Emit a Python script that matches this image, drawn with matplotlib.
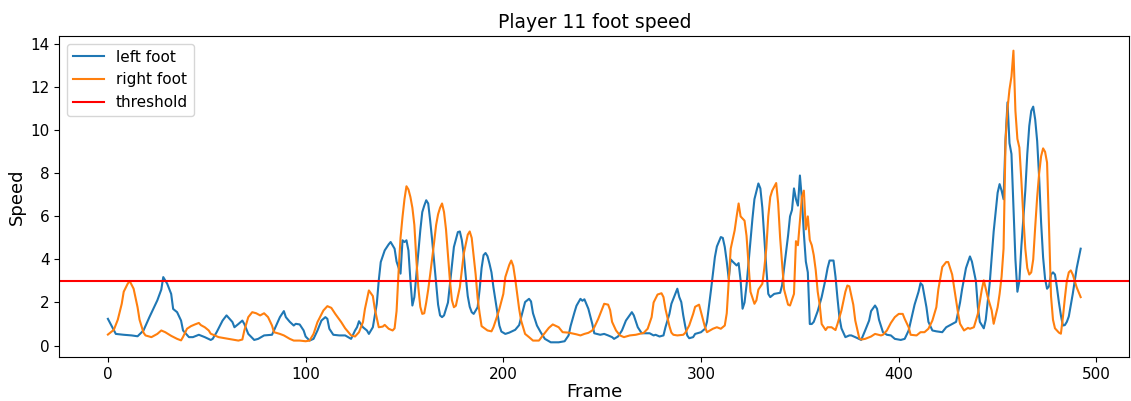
import matplotlib
matplotlib.use("Agg")
import matplotlib.pyplot as plt

# left foot: frame, speed
left_frame = [0, 4, 8, 12, 15, 18, 21, 25, 27, 28, 30, 32, 33, 35, 37, 38, 41, 43, 46, 49,
              52, 53, 55, 58, 60, 63, 64, 66, 68, 69, 71, 74, 76, 79, 83, 84, 87, 89, 90, 92,
              94, 95, 97, 99, 100, 102, 104, 106, 108, 110, 111, 112, 114, 117, 120, 123, 125, 126, 127, 129,
              131, 132, 134, 136, 137, 138, 140, 142, 143, 145, 146, 148, 149, 150, 151, 152, 153, 154, 155, 156,
              158, 159, 160, 161, 162, 163, 164, 165, 166, 167, 168, 169, 170, 172, 173, 175, 177, 178, 179, 180,
              181, 182, 183, 184, 185, 187, 188, 189, 190, 191, 192, 193, 194, 195, 196, 197, 198, 199, 201, 203,
              206, 208, 209, 211, 213, 214, 215, 217, 219, 221, 224, 228, 231, 233, 234, 236, 237, 239, 240, 241,
              243, 245, 246, 249, 251, 253, 255, 256, 258, 260, 262, 265, 266, 268, 270, 274, 276, 277, 279, 281,
              282, 284, 285, 287, 288, 289, 290, 291, 292, 293, 294, 296, 297, 300, 302, 303, 305, 307, 308, 310,
              311, 312, 313, 314, 315, 316, 318, 319, 320, 321, 322, 323, 325, 326, 327, 329, 330, 331, 332, 333,
              334, 335, 337, 339, 340, 341, 342, 344, 345, 346, 347, 348, 349, 350, 351, 352, 353, 354, 355, 356,
              357, 359, 361, 363, 364, 365, 367, 368, 369, 370, 371, 373, 375, 376, 378, 380, 381, 383, 385, 386,
              388, 389, 390, 392, 394, 396, 398, 401, 403, 405, 406, 408, 410, 411, 412, 413, 414, 415, 417, 419,
              422, 424, 426, 427, 429, 431, 432, 434, 436, 437, 439, 440, 441, 443, 444, 446, 448, 450, 451, 452,
              453, 454, 455, 456, 457, 458, 459, 460, 461, 462, 464, 465, 466, 467, 468, 469, 470, 471, 472, 473,
              474, 475, 476, 477, 478, 479, 480, 481, 482, 483, 484, 485, 486, 488, 490, 492]
left_speed = [1.24, 0.54, 0.5, 0.47, 0.43, 0.7, 1.32, 2.1, 2.6, 3.18, 2.87, 2.4, 1.7, 1.55, 1.16, 0.7, 0.39, 0.39, 0.5, 0.39,
              0.26, 0.31, 0.62, 1.16, 1.4, 1.09, 0.85, 1.0, 1.16, 1.0, 0.54, 0.26, 0.31, 0.47, 0.5, 0.7, 1.32, 1.6, 1.32, 1.1,
              0.93, 1.01, 0.98, 0.7, 0.42, 0.23, 0.31, 0.7, 1.16, 1.32, 1.24, 0.78, 0.5, 0.47, 0.47, 0.31, 0.7, 0.85, 1.13, 0.85,
              0.7, 0.54, 0.85, 1.94, 3.03, 3.88, 4.42, 4.7, 4.81, 4.5, 3.9, 3.34, 4.89, 4.81, 4.89, 4.42, 3.03, 1.86, 2.25, 3.3,
              5.35, 6.2, 6.5, 6.75, 6.6, 5.8, 4.9, 3.9, 2.9, 1.9, 1.4, 1.32, 1.4, 2.0, 2.87, 4.58, 5.27, 5.3, 4.9, 4.2,
              3.2, 2.3, 1.8, 1.55, 1.47, 1.78, 2.6, 3.6, 4.2, 4.3, 4.15, 3.8, 3.4, 2.7, 2.1, 1.5, 0.93, 0.65, 0.54, 0.6,
              0.73, 0.95, 1.3, 2.02, 2.17, 2.05, 1.5, 0.93, 0.6, 0.31, 0.15, 0.15, 0.2, 0.47, 0.9, 1.55, 1.85, 2.17, 2.08, 2.15,
              1.71, 1.0, 0.57, 0.5, 0.54, 0.47, 0.39, 0.31, 0.42, 0.7, 1.16, 1.55, 1.4, 0.85, 0.57, 0.57, 0.47, 0.5, 0.42, 0.47,
              0.85, 1.47, 1.94, 2.4, 2.64, 2.25, 2.02, 1.4, 0.9, 0.47, 0.34, 0.39, 0.54, 0.62, 0.78, 1.1, 2.56, 4.11, 4.6, 5.04,
              5.0, 4.58, 3.9, 3.1, 4.0, 3.9, 3.72, 3.83, 3.03, 1.71, 2.0, 2.8, 4.89, 5.9, 6.8, 7.53, 7.3, 6.4, 5.0, 3.6,
              2.4, 2.25, 2.4, 2.43, 2.45, 2.8, 3.6, 5.1, 6.0, 6.3, 7.3, 6.8, 6.5, 7.9, 6.8, 5.2, 3.9, 3.4, 1.0, 1.0,
              1.1, 1.6, 2.25, 3.1, 3.6, 3.95, 3.95, 3.2, 2.2, 1.3, 0.8, 0.39, 0.47, 0.47, 0.39, 0.3, 0.26, 0.7, 1.16, 1.6,
              1.86, 1.71, 1.2, 0.62, 0.5, 0.47, 0.31, 0.26, 0.31, 0.7, 1.1, 1.9, 2.5, 2.9, 2.8, 2.3, 1.78, 1.1, 0.7, 0.66,
              0.62, 0.85, 0.95, 1.0, 1.1, 2.0, 2.6, 3.6, 4.14, 3.9, 3.0, 1.8, 1.1, 0.8, 1.2, 2.9, 5.3, 7.1, 7.5, 7.2,
              6.8, 9.6, 11.3, 9.4, 8.9, 6.5, 4.0, 2.5, 3.0, 4.6, 7.2, 8.9, 10.2, 10.9, 11.1, 10.5, 9.5, 7.8, 5.7, 4.1,
              3.1, 2.64, 2.75, 3.3, 3.4, 3.3, 2.7, 2.0, 1.4, 0.93, 0.95, 1.1, 1.35, 2.4, 3.6, 4.5]

# right foot: frame, speed
right_frame = [0, 3, 5, 7, 8, 10, 11, 13, 15, 16, 18, 19, 22, 25, 27, 29, 32, 35, 37, 38,
               40, 42, 44, 46, 47, 49, 51, 52, 56, 61, 66, 68, 69, 71, 73, 75, 77, 79, 81, 83,
               84, 87, 89, 92, 94, 97, 100, 102, 104, 106, 109, 111, 113, 115, 118, 120, 123, 125, 127, 129,
               130, 132, 134, 135, 137, 139, 140, 142, 144, 145, 146, 147, 148, 149, 150, 151, 152, 153, 154, 155,
               156, 157, 158, 159, 160, 161, 162, 163, 165, 166, 167, 168, 169, 170, 171, 172, 173, 174, 175, 176,
               178, 180, 182, 183, 184, 186, 187, 188, 189, 192, 194, 195, 197, 198, 200, 201, 203, 204, 205, 206,
               207, 208, 209, 211, 213, 215, 218, 220, 223, 225, 228, 230, 233, 235, 237, 239, 241, 243, 245, 246,
               248, 250, 251, 253, 254, 255, 257, 259, 261, 264, 267, 271, 273, 275, 276, 278, 280, 281, 282, 284,
               285, 286, 288, 291, 292, 294, 296, 297, 299, 300, 302, 303, 306, 308, 310, 312, 313, 314, 315, 317,
               318, 319, 320, 322, 323, 324, 325, 327, 328, 329, 331, 332, 333, 334, 335, 336, 338, 339, 340, 341,
               342, 344, 345, 347, 348, 349, 350, 351, 352, 353, 354, 355, 356, 357, 358, 359, 360, 361, 363, 364,
               366, 368, 369, 371, 373, 374, 375, 377, 378, 380, 381, 383, 386, 388, 391, 392, 394, 396, 398, 400,
               402, 403, 405, 406, 409, 411, 413, 415, 417, 419, 420, 422, 424, 425, 427, 428, 430, 431, 433, 435,
               436, 438, 440, 442, 443, 445, 447, 448, 450, 451, 452, 453, 454, 455, 456, 457, 458, 459, 460, 461,
               462, 463, 464, 465, 466, 467, 468, 469, 470, 471, 472, 473, 474, 475, 476, 477, 478, 479, 480, 481,
               482, 483, 484, 485, 486, 487, 488, 490, 492]
right_speed = [0.51, 0.73, 1.2, 1.94, 2.5, 2.87, 3.0, 2.64, 1.78, 1.2, 0.6, 0.47, 0.39, 0.54, 0.7, 0.62, 0.45, 0.31, 0.24, 0.4,
               0.78, 0.9, 0.98, 1.05, 0.95, 0.85, 0.7, 0.55, 0.39, 0.31, 0.23, 0.28, 0.7, 1.32, 1.55, 1.5, 1.4, 1.5, 1.32, 0.93,
               0.62, 0.54, 0.47, 0.31, 0.23, 0.23, 0.2, 0.23, 0.54, 1.09, 1.63, 1.83, 1.75, 1.47, 1.09, 0.8, 0.47, 0.42, 0.62, 1.09,
               1.7, 2.56, 2.3, 1.7, 0.85, 0.88, 0.96, 0.78, 0.7, 0.8, 1.6, 3.4, 5.0, 5.97, 6.8, 7.4, 7.25, 6.9, 6.4, 5.6,
               4.0, 2.7, 1.8, 1.47, 1.5, 2.0, 2.6, 3.3, 4.8, 5.6, 6.1, 6.4, 6.6, 6.2, 5.4, 4.2, 3.0, 2.1, 1.78, 1.85,
               2.71, 4.27, 5.15, 5.3, 5.0, 3.3, 2.2, 1.5, 0.9, 0.7, 0.66, 0.85, 1.4, 1.7, 2.4, 3.18, 3.75, 3.95, 3.7, 3.1,
               2.4, 1.7, 1.16, 0.54, 0.39, 0.23, 0.23, 0.47, 0.82, 0.98, 0.85, 0.62, 0.6, 0.56, 0.52, 0.47, 0.54, 0.59, 0.7, 0.85,
               1.24, 1.71, 1.94, 1.9, 1.65, 1.1, 0.7, 0.47, 0.39, 0.47, 0.5, 0.59, 0.78, 1.32, 2.0, 2.37, 2.43, 2.25, 1.7, 0.9,
               0.6, 0.5, 0.47, 0.5, 0.59, 0.93, 1.47, 1.8, 1.9, 1.55, 0.85, 0.62, 0.78, 0.85, 0.78, 0.93, 1.5, 3.0, 4.5, 5.35,
               6.0, 6.6, 6.0, 5.8, 5.1, 3.8, 2.5, 1.94, 2.1, 2.6, 2.87, 3.6, 4.5, 6.0, 6.9, 7.2, 7.55, 6.6, 5.0, 3.8,
               2.6, 1.9, 1.86, 2.4, 4.85, 4.66, 5.8, 6.9, 7.2, 5.4, 6.0, 4.9, 4.66, 4.2, 3.5, 2.5, 1.9, 1.0, 0.72, 0.85,
               0.85, 0.72, 1.0, 1.63, 2.5, 2.79, 2.75, 1.9, 1.16, 0.35, 0.28, 0.31, 0.42, 0.54, 0.47, 0.5, 0.7, 1.05, 1.32, 1.47,
               1.47, 1.24, 0.85, 0.5, 0.47, 0.62, 0.62, 0.78, 1.16, 1.78, 2.6, 3.65, 3.88, 3.88, 3.3, 2.71, 1.5, 1.01, 0.7, 0.82,
               0.78, 0.85, 1.47, 2.6, 3.03, 2.25, 1.63, 1.01, 1.78, 2.4, 3.2, 4.5, 9.5, 11.0, 11.9, 12.5, 13.7, 10.9, 9.6, 9.2,
               7.68, 6.0, 4.5, 3.6, 3.3, 3.4, 4.0, 5.5, 6.9, 8.0, 8.8, 9.16, 9.0, 8.5, 5.5, 2.3, 1.2, 0.8, 0.7, 0.6,
               0.55, 1.3, 2.2, 3.0, 3.4, 3.49, 3.3, 2.7, 2.25]

threshold = 3

fig, ax = plt.subplots(figsize=(11.31, 4.01), dpi=100)
fig.subplots_adjust(left=0.0524, right=0.9985, top=0.91, bottom=0.11)

ax.plot(left_frame, left_speed, label="left foot")
ax.plot(right_frame, right_speed, label="right foot")
ax.axhline(threshold, color="red", label="threshold")

ax.set_title("Player 11 foot speed", fontsize=13.5)
ax.set_xlabel("Frame", fontsize=13, labelpad=1)
ax.set_ylabel("Speed", fontsize=13, labelpad=3)
ax.tick_params(labelsize=11)
ax.legend(loc="upper left", fontsize=11)

fig.savefig("out.png", dpi=100)
